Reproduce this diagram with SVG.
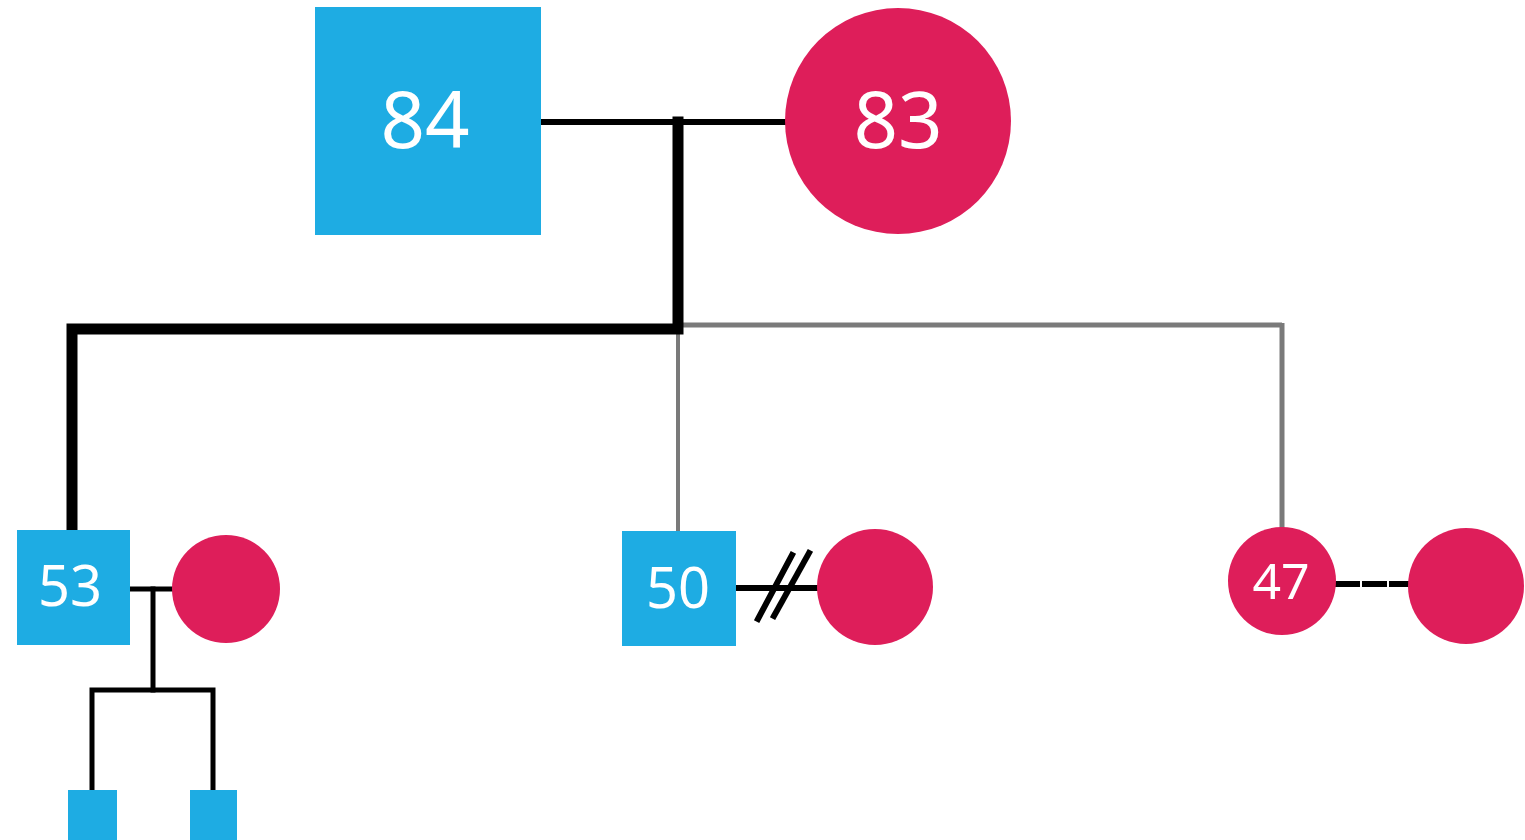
<svg xmlns="http://www.w3.org/2000/svg" width="1525" height="840" viewBox="0 0 1525 840">
<style>
.m{fill:#1eace3}
.f{fill:#de1e5a}
.t{fill:#ffffff;font-family:"Noto Sans","Open Sans",sans-serif;font-weight:400;text-anchor:middle}
.k{stroke:#000;fill:none;stroke-linecap:square}
.g{stroke:#7a7a7a;fill:none}
</style>
<rect width="1525" height="840" fill="#fff"/>
<g id="connectors">
<line class="k" x1="540" y1="122" x2="785" y2="122" stroke-width="6"/>
<line class="g" x1="678" y1="325" x2="1282" y2="325" stroke-width="5"/>
<line class="g" x1="1282" y1="323" x2="1282" y2="530" stroke-width="5"/>
<line class="g" x1="678" y1="330" x2="678" y2="531" stroke-width="4"/>
<polyline class="k" points="678,122 678,329 72,329 72,530" stroke-width="11" stroke-linecap="butt" stroke-linejoin="miter"/>
<line class="k" x1="130" y1="589" x2="172" y2="589" stroke-width="5" stroke-linecap="butt"/>
<polyline class="k" points="153,589 153,690" stroke-width="5" stroke-linecap="butt"/>
<polyline class="k" points="92,790 92,690 213,690 213,790" stroke-width="5" stroke-linecap="butt"/>
<line class="k" x1="736" y1="588" x2="818" y2="588" stroke-width="6" stroke-linecap="butt"/>
<line class="k" x1="758" y1="619" x2="792" y2="555" stroke-width="6" stroke-linecap="butt"/>
<line class="k" x1="774" y1="616" x2="809" y2="553" stroke-width="6" stroke-linecap="butt"/>
<line class="k" x1="1338" y1="584" x2="1408" y2="584" stroke-width="6" stroke-dasharray="19,8" stroke-linecap="butt"/>
</g>
<g id="n84"><rect class="m" x="315" y="7" width="226" height="228"/><text class="t" x="425" y="148" font-size="78">84</text></g>
<g id="n83"><circle class="f" cx="898" cy="121" r="113"/><text class="t" x="898" y="148" font-size="78">83</text></g>
<g id="n53"><rect class="m" x="17" y="530" width="113" height="115"/><text class="t" x="70" y="606" font-size="56">53</text></g>
<g id="n53w"><circle class="f" cx="226" cy="589" r="54"/></g>
<g id="c1"><rect class="m" x="68" y="790" width="49" height="50"/></g>
<g id="c2"><rect class="m" x="190" y="790" width="47" height="50"/></g>
<g id="n50"><rect class="m" x="622" y="531" width="114" height="115"/><text class="t" x="678" y="608" font-size="56">50</text></g>
<g id="n50w"><circle class="f" cx="875" cy="587" r="58"/></g>
<g id="n47"><circle class="f" cx="1282" cy="581" r="54"/><text class="t" x="1281" y="599" font-size="50">47</text></g>
<g id="n47p"><circle class="f" cx="1466" cy="586" r="58"/></g>
</svg>
